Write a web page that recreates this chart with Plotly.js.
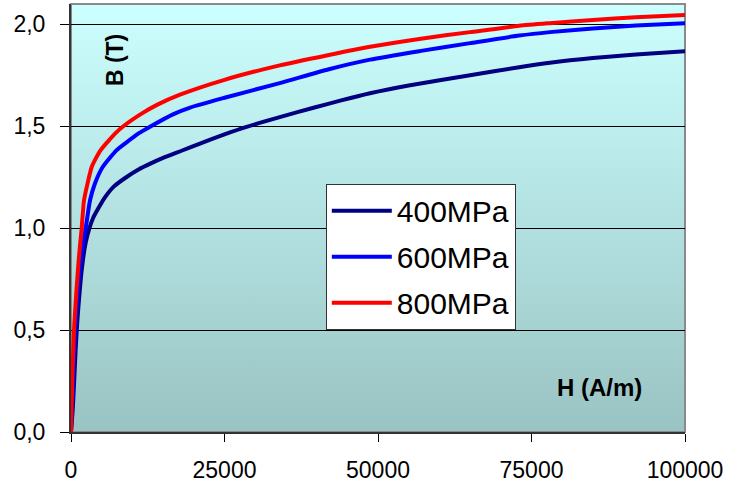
<!DOCTYPE html>
<html>
<head>
<meta charset="utf-8">
<script src="https://cdn.plot.ly/plotly-3.0.1.min.js"></script>
<style>html,body{margin:0;padding:0;background:#fff;}#chart{width:731px;height:483px;}</style>
</head>
<body>
<div id="chart"></div>
<script>
// ---- data ----
const seriesNames = ["400MPa", "600MPa", "800MPa"];

const h400 = [0, 300, 500, 750, 1000, 1300, 1800, 2400, 3000, 3600, 4500, 5500, 7000, 9000, 11000, 13000, 15000, 18000, 21000, 25000, 28600, 34000, 39500, 44000, 48700, 55000, 65000, 73000, 78000, 85000, 92000, 100000];
const b400 = [0, 0.12, 0.24, 0.40, 0.53, 0.65, 0.81, 0.93, 1.00, 1.05, 1.10, 1.15, 1.205, 1.25, 1.288, 1.318, 1.345, 1.38, 1.415, 1.46, 1.497, 1.545, 1.591, 1.627, 1.662, 1.70, 1.75, 1.79, 1.812, 1.835, 1.852, 1.868];

const h600 = [0, 300, 600, 1000, 1500, 2000, 2400, 3100, 3900, 5160, 7440, 9000, 11000, 12800, 16700, 19400, 25000, 34000, 42000, 48700, 57000, 65000, 73000, 78000, 85000, 92000, 100000];
const b600 = [0, 0.2, 0.45, 0.65, 0.82, 0.93, 1.0, 1.137, 1.219, 1.30, 1.383, 1.42, 1.465, 1.497, 1.56, 1.592, 1.64, 1.712, 1.78, 1.827, 1.87, 1.908, 1.945, 1.962, 1.98, 1.994, 2.006];

const h800 = [0, 200, 490, 900, 1300, 1740, 2120, 2700, 3370, 4000, 4830, 6000, 7170, 8520, 11500, 14000, 17750, 25000, 34000, 42000, 48700, 57000, 65000, 73000, 78000, 85000, 92000, 100000];
const b800 = [0, 0.25, 0.5, 0.7, 0.86, 1.0, 1.137, 1.22, 1.30, 1.34, 1.383, 1.425, 1.464, 1.5, 1.562, 1.605, 1.655, 1.728, 1.799, 1.85, 1.89, 1.93, 1.962, 1.993, 2.006, 2.022, 2.035, 2.046];

const xTickVals = [0, 25000, 50000, 75000, 100000];
const xTickText = ["0", "25000", "50000", "75000", "100000"];
const yTickVals = [0, 0.5, 1.0, 1.5, 2.0];
const yTickText = ["0,0", "0,5", "1,0", "1,5", "2,0"];

const xTitle = "H (A/m)";
const yTitle = "B (T)";

// ---- styling ----
const colors = ["#000080", "#0000FF", "#FF0000"];
const xs = [h400, h600, h800];
const ys = [b400, b600, b800];
const FONT = "Liberation Sans, Arial, sans-serif";

const traces = seriesNames.map((n, i) => ({
  type: "scatter",
  mode: "lines",
  name: n,
  x: xs[i],
  y: ys[i],
  legendgroup: "g" + i,
  line: {color: colors[i], width: 4, shape: "spline", smoothing: 0.6},
  hoverinfo: "skip"
}));

const svg = '<svg xmlns="http://www.w3.org/2000/svg" width="10" height="100" preserveAspectRatio="none">' +
  '<defs><linearGradient id="g" x1="0" y1="0" x2="0" y2="1">' +
  '<stop offset="0" stop-color="#CCFFFF"/><stop offset="1" stop-color="#9AC3C3"/>' +
  '</linearGradient></defs><rect width="10" height="100" fill="url(#g)"/></svg>';

const layout = {
  width: 731, height: 483,
  margin: {l: 71, r: 46, t: 4, b: 51},
  paper_bgcolor: "#ffffff",
  plot_bgcolor: "rgba(0,0,0,0)",
  font: {family: FONT, color: "#000"},
  showlegend: true,
  legend: {
    x: 0.415, y: 0.58, xanchor: "left", yanchor: "top",
    bgcolor: "#ffffff", bordercolor: "#333333", borderwidth: 1,
    font: {family: FONT, size: 30, color: "#000"},
    itemwidth: 60, tracegroupgap: 4
  },
  xaxis: {
    range: [0, 100000], tickmode: "array", tickvals: xTickVals, ticktext: xTickText,
    showgrid: false, zeroline: false, showline: true, linecolor: "#333", linewidth: 2,
    ticks: "outside", ticklen: 8, tickcolor: "#000", tickwidth: 1,
    tickfont: {family: FONT, size: 23, color: "#000"}, ticklabelstandoff: 8
  },
  yaxis: {
    range: [0, 2.1], tickmode: "array", tickvals: yTickVals, ticktext: yTickText,
    showgrid: true, gridcolor: "#000", gridwidth: 1, zeroline: false,
    showline: true, linecolor: "#333", linewidth: 2,
    ticks: "outside", ticklen: 9, tickcolor: "#000", tickwidth: 1,
    tickfont: {family: FONT, size: 23, color: "#000"}, ticklabelstandoff: 10
  },
  images: [{
    source: "data:image/svg+xml;charset=utf-8," + encodeURIComponent(svg),
    xref: "paper", yref: "paper", x: 0, y: 1, sizex: 1, sizey: 1,
    xanchor: "left", yanchor: "top", sizing: "stretch", layer: "below"
  }],
  shapes: [{
    type: "rect", xref: "paper", yref: "paper", x0: 0, x1: 1, y0: 0, y1: 1,
    line: {color: "#8a8a8a", width: 2}, layer: "below"
  }],
  annotations: [
    {text: "<b>" + yTitle + "</b>", xref: "paper", yref: "paper", x: 0.0717, y: 0.869,
     xanchor: "center", yanchor: "middle",
     textangle: -90, showarrow: false, font: {family: FONT, size: 23, color: "#000"}},
    {text: "<b>" + xTitle + "</b>", xref: "paper", yref: "paper", x: 0.86, y: 0.103,
     xanchor: "center", yanchor: "middle",
     showarrow: false, font: {family: FONT, size: 24, color: "#000"}}
  ]
};

Plotly.newPlot("chart", traces, layout, {staticPlot: true, displayModeBar: false});
</script>
</body>
</html>
